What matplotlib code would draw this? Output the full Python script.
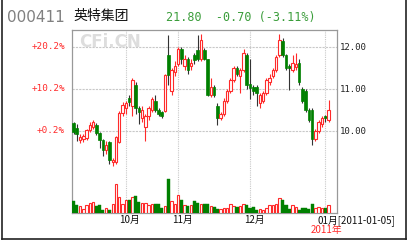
import matplotlib
matplotlib.use("Agg")
import matplotlib.pyplot as plt
import matplotlib.transforms as mtransforms
from matplotlib.lines import Line2D

# daily candles, Sept 2010 .. 2011-01-05
opens = [10.18, 10.06, 9.78, 9.80, 9.83, 10.02, 10.10, 10.14, 9.95, 9.78,
         9.55, 9.72, 9.26, 9.25, 9.72, 10.42, 10.55, 10.78, 10.60, 11.10,
         10.55, 10.30, 10.10, 10.35, 10.50, 10.70, 10.50, 10.45, 10.48, 11.80,
         10.95, 11.40, 11.60, 11.95, 11.55, 11.70, 11.55, 11.80, 11.92, 11.72,
         11.92, 11.70, 10.85, 11.05, 10.60, 10.30, 10.40, 10.70, 10.95, 11.20,
         11.50, 11.30, 11.45, 11.80, 11.12, 11.05, 11.05, 10.65, 10.70, 10.90,
         11.15, 11.30, 11.45, 11.80, 12.14, 11.80, 11.55, 11.45, 11.52, 11.62,
         11.00, 10.95, 10.50, 10.50, 9.80, 10.00, 10.15, 10.35, 10.25]
closes = [9.97, 9.92, 9.85, 9.87, 10.02, 10.14, 10.20, 9.95, 9.78, 9.54,
          9.66, 9.30, 9.30, 9.85, 10.42, 10.61, 10.66, 10.68, 11.20, 10.55,
          10.45, 10.50, 10.35, 10.55, 10.75, 10.50, 10.40, 10.35, 11.33, 11.33,
          11.45, 11.55, 11.95, 11.70, 11.70, 11.45, 11.62, 11.68, 11.72, 12.16,
          11.72, 10.85, 11.05, 10.85, 10.30, 10.40, 10.70, 10.95, 11.20, 11.50,
          11.35, 11.45, 11.85, 11.09, 11.03, 10.95, 10.90, 10.85, 10.90, 11.20,
          11.25, 11.45, 11.75, 12.16, 11.80, 11.50, 11.50, 11.62, 11.60, 11.15,
          10.70, 10.50, 10.25, 9.80, 10.00, 10.20, 10.30, 10.30, 10.50]
highs = [10.22, 10.15, 9.92, 9.92, 10.05, 10.20, 10.25, 10.18, 9.98, 9.80,
         9.75, 9.75, 9.35, 9.88, 10.48, 10.68, 10.70, 10.85, 11.25, 11.15,
         10.60, 10.60, 10.40, 10.60, 10.80, 10.85, 10.55, 10.48, 11.36, 12.28,
         11.50, 11.65, 12.00, 12.00, 11.80, 11.75, 11.70, 11.85, 12.28, 12.30,
         11.98, 11.72, 11.25, 11.10, 10.65, 10.45, 10.78, 11.00, 11.25, 11.55,
         11.55, 11.50, 11.95, 11.85, 11.70, 11.10, 11.10, 10.90, 10.95, 11.25,
         11.35, 11.50, 11.80, 12.30, 12.20, 11.82, 11.60, 11.80, 11.85, 11.70,
         11.05, 11.00, 10.55, 10.55, 10.05, 10.25, 10.35, 10.38, 10.73]
lows = [9.92, 9.75, 9.70, 9.72, 9.78, 9.98, 10.05, 9.90, 9.60, 9.40,
        9.45, 9.20, 9.15, 9.20, 9.70, 10.35, 10.40, 10.60, 10.35, 10.40,
        10.15, 10.20, 9.75, 10.25, 10.45, 10.45, 10.35, 10.30, 10.45, 11.10,
        10.85, 11.30, 11.55, 11.60, 11.45, 11.35, 11.45, 11.60, 11.65, 11.65,
        11.68, 10.82, 10.80, 10.80, 10.14, 10.25, 10.35, 10.65, 10.90, 11.15,
        11.30, 10.90, 11.40, 11.00, 10.75, 10.85, 10.60, 10.55, 10.65, 10.85,
        11.10, 11.25, 11.40, 11.75, 11.75, 11.45, 10.97, 11.40, 11.45, 11.10,
        10.65, 10.45, 10.20, 9.65, 9.75, 9.95, 10.10, 10.20, 10.20]
volume = [12, 8, 7, 4, 8, 10, 11, 7, 8, 3,
          5, 3, 9, 29, 16, 9, 13, 13, 16, 17,
          11, 10, 10, 8, 9, 9, 9, 5, 7, 34,
          12, 9, 18, 13, 8, 7, 8, 12, 10, 9,
          9, 9, 7, 6, 4, 4, 5, 5, 9, 7,
          6, 7, 9, 8, 5, 6, 3, 4, 3, 5,
          8, 8, 9, 15, 13, 8, 4, 8, 6, 3,
          5, 5, 4, 9, 5, 6, 5, 5, 8]

month_start = [16, 32, 54, 77]
month_labels = ["10月", "11月", "12月", "01月[2011-01-05]"]
price_ticks = [10.0, 11.0, 12.0]
base_price = 9.98

RED = "#ff2a2a"
GREEN = "#008000"
CJK = ["Noto Sans CJK SC", "DejaVu Sans"]

W, H = 408, 240
fig = plt.figure(figsize=(W / 100, H / 100), dpi=100)
fig.patch.set_facecolor("white")

def fx(px):
    return px / W

def fy(py):
    return 1 - py / H

rect = [fx(72), fy(213), fx(337) - fx(72), fy(30) - fy(213)]
ax = fig.add_axes(rect)
axv = fig.add_axes(rect, sharex=ax)
axv.patch.set_visible(False)
axv.axis("off")

n = len(closes)
xs = list(range(n))

for i in xs:
    o, c, h, l = opens[i], closes[i], highs[i], lows[i]
    up = c >= o
    col = RED if up else GREEN
    wick = RED if up else "#333333"
    ax.vlines(i, l, h, color=wick, lw=0.8, zorder=3)
    body = max(abs(c - o), 0.02)
    if up:
        ax.bar(i, body, bottom=min(o, c), width=0.75, facecolor="white",
               edgecolor=col, linewidth=0.8, zorder=4)
    else:
        ax.bar(i, body, bottom=min(o, c), width=0.8, facecolor=col,
               edgecolor=col, linewidth=0.5, zorder=4)
    if up:
        axv.bar(i, volume[i], width=0.75, facecolor="white", edgecolor=RED,
                linewidth=0.8, zorder=3)
    else:
        axv.bar(i, volume[i], width=0.95, facecolor=GREEN, edgecolor=GREEN,
                linewidth=0.3, zorder=3)

ax.set_xlim(-0.46, 80.6)
ax.set_ylim(8.04, 12.40)
axv.set_ylim(0, 183)

for p in price_ticks:
    ax.axhline(p, color="#c8c8c8", lw=0.8, ls=(0, (2, 1)), zorder=1)
for m in month_start:
    ax.axvline(m, color="#c8c8c8", lw=0.8, ls=(0, (1, 1)), zorder=1)

ax.yaxis.tick_right()
ax.set_yticks(price_ticks)
ax.set_yticklabels([f"{p:.2f}" for p in price_ticks],
                   family="DejaVu Sans Mono", fontsize=6.5, color="#222222")
ax.tick_params(axis="y", length=0, pad=2)
ax.set_xticks([])
for s in ax.spines.values():
    s.set_color("#999999")
    s.set_linewidth(0.9)

trans_left = mtransforms.blended_transform_factory(ax.transAxes, ax.transData)
for p in price_ticks:
    pct = (p / base_price - 1) * 100
    ax.text(-0.026, p, f"+{pct:.1f}%", transform=trans_left, ha="right",
            va="center", family="DejaVu Sans Mono", fontsize=6.7, color=RED)

trans_bot = mtransforms.blended_transform_factory(ax.transData, ax.transAxes)
for m, lab in zip(month_start[:-1], month_labels[:-1]):
    ax.text(m + 1.2, -0.01, lab, transform=trans_bot, ha="center", va="top",
            family=CJK, fontsize=7, color="#111111")
ax.text(month_start[-1] - 2.5, -0.01, month_labels[-1], transform=trans_bot,
        ha="left", va="top", family=CJK, fontsize=7, color="#111111")
ax.text(month_start[-1] + 0.3, -0.065, "2011年", transform=trans_bot,
        ha="center", va="top", family=CJK, fontsize=7, color=RED)

# watermark
ax.text(0.025, 0.935, "CFi.CN", transform=ax.transAxes, ha="left",
        va="center", fontsize=12, fontweight="bold", color="#dddddd", zorder=0)

# header
fig.text(fx(7), fy(17), "000411", ha="left", va="center", fontsize=11,
         color="#808080")
fig.text(fx(73), fy(16), "英特集团", ha="left", va="center", family=CJK,
         fontsize=10, color="#111111")
fig.text(fx(166), fy(17), "21.80  -0.70 (-3.11%)", ha="left", va="center",
         family="DejaVu Sans Mono", fontsize=8.5, color="#3a9d3a")

# outer frame
for (x0, y0, x1, y1) in [(1.5, 0, 1.5, 238.5), (1.5, 238.5, 405.5, 238.5),
                         (405.5, 0, 405.5, 238.5)]:
    fig.add_artist(Line2D([fx(x0), fx(x1)], [fy(y0), fy(y1)],
                          color="#222222", lw=1.2))

fig.savefig("out.png", dpi=100)
